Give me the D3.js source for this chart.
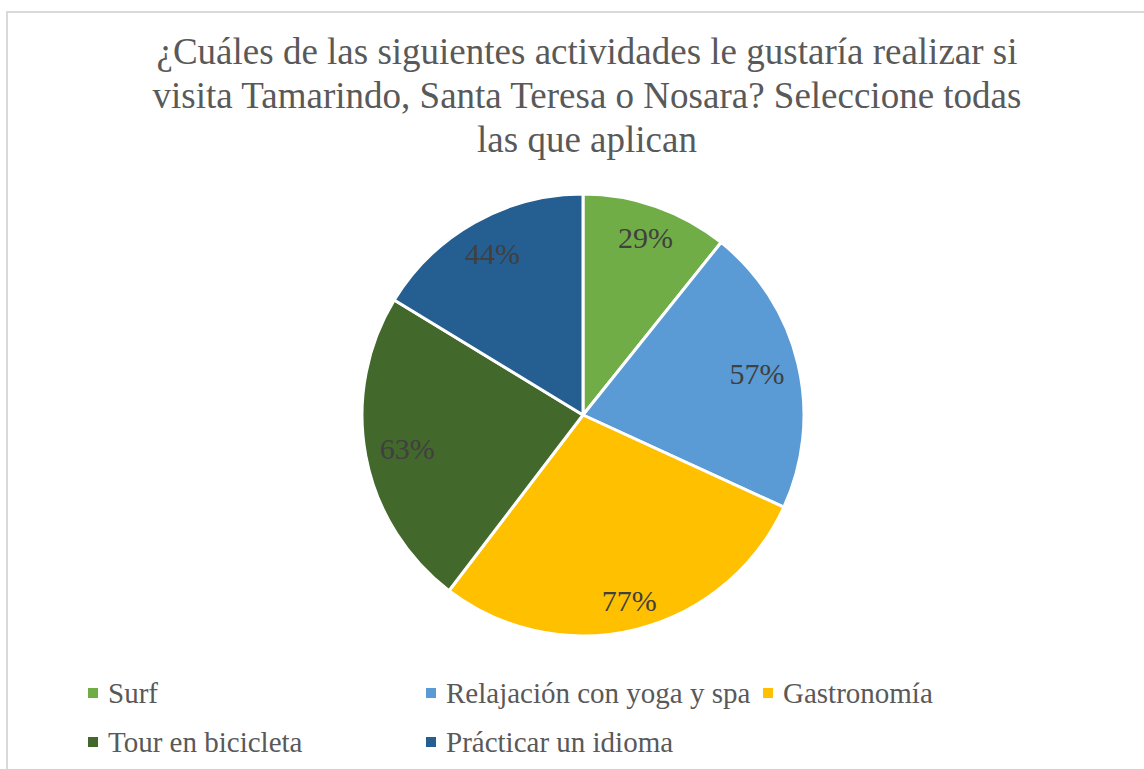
<!DOCTYPE html>
<html>
<head>
<meta charset="utf-8">
<script src="https://d3js.org/d3.v7.min.js"></script>
</head>
<body style="margin:0">
<script>
// chart data
var categories = ["Surf", "Relajación con yoga y spa", "Gastronomía", "Tour en bicicleta", "Prácticar un idioma"];
var values = [29, 57, 77, 63, 44];
var labels = ["29%", "57%", "77%", "63%", "44%"];
var colors = ["#70AD47", "#5B9BD5", "#FFC000", "#43682B", "#255E91"];
var titleLines = [
  "¿Cuáles de las siguientes actividades le gustaría realizar si",
  "visita Tamarindo, Santa Teresa o Nosara? Seleccione todas",
  "las que aplican"
];

var width = 1144, height = 769;
var cx = 583, cy = 415, radius = 221;
var font = "Liberation Serif";

var svg = d3.select("body").append("svg").attr("width", width).attr("height", height)
  .style("display", "block");

// chart area border
svg.append("rect")
  .attr("x", 7).attr("y", 12)
  .attr("width", width + 10).attr("height", height + 10)
  .attr("fill", "#fff").attr("stroke", "#D9D9D9").attr("stroke-width", 2);

// title
svg.selectAll("text.title")
  .data(titleLines)
  .enter().append("text")
  .attr("class", "title")
  .attr("x", 587)
  .attr("y", function(d, i) { return 64 + i * 44; })
  .attr("text-anchor", "middle")
  .style("font-family", font)
  .style("font-size", "37px")
  .style("fill", "#595959")
  .text(function(d) { return d; });

// pie
var pie = d3.pie().sort(null).value(function(d) { return d; });
var arc = d3.arc().innerRadius(0).outerRadius(radius);
var arcs = pie(values);

var g = svg.append("g").attr("transform", "translate(" + cx + "," + cy + ")");

g.selectAll("path")
  .data(arcs)
  .enter().append("path")
  .attr("d", arc)
  .attr("fill", function(d, i) { return colors[i]; })
  .attr("stroke", "#fff")
  .attr("stroke-width", 3)
  .attr("stroke-linejoin", "round");

// data labels: "best fit" inside the slice, box kept a little off the rim
var lbl = g.selectAll("text.lbl")
  .data(arcs)
  .enter().append("text")
  .attr("class", "lbl")
  .attr("text-anchor", "middle")
  .attr("dy", "0.35em")
  .style("font-family", font)
  .style("font-size", "30px")
  .style("fill", "#404040")
  .text(function(d, i) { return labels[i]; });

lbl.attr("transform", function(d) {
  var a = (d.startAngle + d.endAngle) / 2;
  var hw = this.getComputedTextLength() / 2, hh = 11;
  var r = radius - 13 - (hw * Math.abs(Math.sin(a)) + hh * Math.abs(Math.cos(a)));
  return "translate(" + (r * Math.sin(a)) + "," + (-r * Math.cos(a)) + ")";
});

// legend
var legendPos = [[88, 693], [426, 693], [763, 693], [88, 742], [426, 742]];

svg.selectAll("rect.key")
  .data(categories)
  .enter().append("rect")
  .attr("class", "key")
  .attr("x", function(d, i) { return legendPos[i][0]; })
  .attr("y", function(d, i) { return legendPos[i][1] - 5; })
  .attr("width", 10).attr("height", 10)
  .attr("fill", function(d, i) { return colors[i]; });

svg.selectAll("text.leg")
  .data(categories)
  .enter().append("text")
  .attr("class", "leg")
  .attr("x", function(d, i) { return legendPos[i][0] + 20; })
  .attr("y", function(d, i) { return legendPos[i][1] + 9.5; })
  .style("font-family", font)
  .style("font-size", "29px")
  .style("fill", "#595959")
  .text(function(d) { return d; });
</script>
</body>
</html>
